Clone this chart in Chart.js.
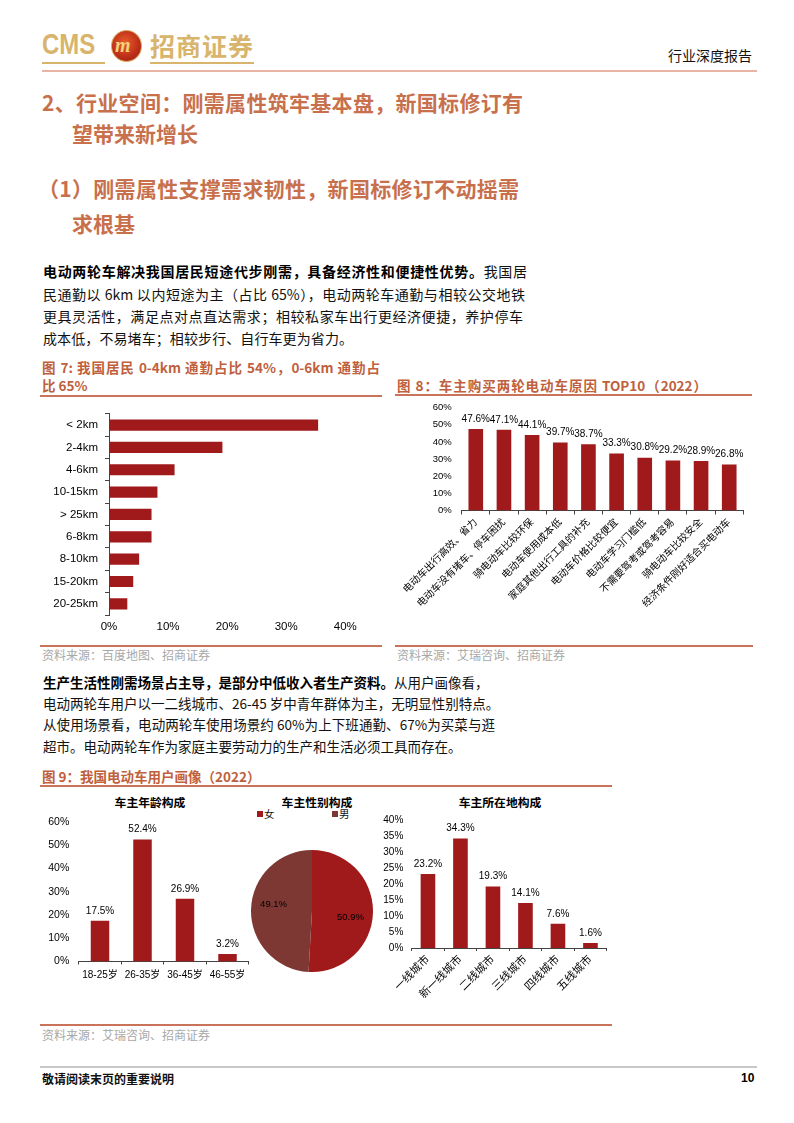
<!DOCTYPE html>
<html lang="zh-CN">
<head>
<meta charset="utf-8">
<script src="https://cdn.jsdelivr.net/npm/chart.js@4.4.1/dist/chart.umd.min.js"></script>
<style>
  html, body { margin:0; padding:0; background:#fff; }
  body { width:794px; height:1123px; position:relative; overflow:hidden;
         font-family:'Noto Sans CJK SC','Liberation Sans',sans-serif; color:#111; }
  .abs { position:absolute; white-space:nowrap; }
  .h1 { font-size:21px; font-weight:bold; color:#C8704C; line-height:26px; }
  .ln { position:absolute; left:43px; white-space:nowrap; text-align:justify; text-align-last:justify; }
  .p1 { font-size:14px; line-height:22px; }
  .p2 { font-size:13.5px; line-height:21px; }
  .ln b { font-weight:bold; color:#000; }
  .ft { font-size:13.5px; font-weight:bold; color:#C0603C; line-height:18px; }
  .rule { position:absolute; height:2px; background:#C8735A; }
  .src { font-size:12px; color:#A8A8A8; line-height:16px; }
  .sub { font-size:11.8px; font-weight:bold; color:#000; line-height:16px; text-align:center; }
  canvas { position:absolute; }
</style>
</head>
<body>
<!-- header -->
<div class="abs" style="left:42px;top:26px;font-family:'Liberation Sans',sans-serif;font-weight:bold;font-size:30px;line-height:36px;color:#D8B46C;transform:scaleX(0.8);transform-origin:0 0;">CMS</div>
<div class="abs" style="left:42px;top:62px;width:63px;height:2px;background:#D8B46C;"></div>
<div class="abs" style="left:111px;top:30px;width:29px;height:30px;border-radius:50%;background:radial-gradient(circle at 45% 40%,#E8602A 0%,#C0301A 55%,#8A1A10 100%);border:1.5px solid #D8A860;"></div>
<div class="abs" style="left:115px;top:34px;font-family:'Liberation Serif',serif;font-style:italic;font-weight:bold;font-size:20px;line-height:22px;color:#F2D27A;">m</div>
<div class="abs" style="left:150px;top:28px;font-weight:bold;font-size:25px;line-height:34px;color:#D8B46C;letter-spacing:1px;">招商证券</div>
<div class="abs" style="left:150px;top:62px;width:104px;height:2px;background:#D8B46C;"></div>
<div class="abs" style="left:668px;top:46px;font-size:14px;line-height:18px;color:#111;">行业深度报告</div>
<div class="abs" style="left:42px;top:70px;width:715px;height:2px;background:#E8B4A4;"></div>

<!-- headings -->
<div class="abs h1" style="left:42px;top:89px;letter-spacing:0.3px;">2、行业空间：刚需属性筑牢基本盘，新国标修订有</div>
<div class="abs h1" style="left:72px;top:120px;">望带来新增长</div>
<div class="abs h1" style="left:38px;top:175px;letter-spacing:0.3px;">（1）刚需属性支撑需求韧性，新国标修订不动摇需</div>
<div class="abs h1" style="left:72px;top:210px;">求根基</div>

<!-- paragraph 1 -->
<div class="ln p1" style="top:260px;width:484px;"><b>电动两轮车解决我国居民短途代步刚需，具备经济性和便捷性优势。</b>我国居</div>
<div class="ln p1" style="top:283px;width:482px;">民通勤以 6km 以内短途为主（占比 65%），电动两轮车通勤与相较公交地铁</div>
<div class="ln p1" style="top:305px;width:480px;">更具灵活性，满足点对点直达需求；相较私家车出行更经济便捷，养护停车</div>
<div class="ln p1" style="top:327px;width:310px;">成本低，不易堵车；相较步行、自行车更为省力。</div>

<!-- fig 7 title -->
<div class="abs ft" style="left:42px;top:358px;width:338px;text-align:justify;text-align-last:justify;">图 7: 我国居民 0-4km 通勤占比 54%，0-6km 通勤占</div>
<div class="abs ft" style="left:42px;top:376px;">比 65%</div>
<div class="rule" style="left:40px;top:395px;width:342px;"></div>
<!-- fig 8 title -->
<div class="abs ft" style="left:397px;top:376px;width:310px;text-align:justify;text-align-last:justify;">图 8：车主购买两轮电动车原因 TOP10（2022）</div>
<div class="rule" style="left:395px;top:394px;width:357px;"></div>

<canvas id="c7" width="330" height="240" style="left:40px;top:400px;"></canvas>
<canvas id="c8" width="355" height="250" style="left:400px;top:392px;"></canvas>

<div class="rule" style="left:40px;top:645px;width:342px;"></div>
<div class="rule" style="left:395px;top:645px;width:358px;"></div>
<div class="abs src" style="left:42px;top:647px;">资料来源：百度地图、招商证券</div>
<div class="abs src" style="left:397px;top:647px;">资料来源：艾瑞咨询、招商证券</div>

<!-- paragraph 2 -->
<div class="ln p2" style="top:672px;width:442px;"><b>生产生活性刚需场景占主导，是部分中低收入者生产资料。</b>从用户画像看，</div>
<div class="ln p2" style="top:693px;width:435px;">电动两轮车用户以一二线城市、26-45 岁中青年群体为主，无明显性别特点。</div>
<div class="ln p2" style="top:714px;width:452px;">从使用场景看，电动两轮车使用场景约 60%为上下班通勤、67%为买菜与逛</div>
<div class="ln p2" style="top:736px;width:414px;">超市。电动两轮车作为家庭主要劳动力的生产和生活必须工具而存在。</div>

<!-- fig 9 -->
<div class="abs ft" style="left:42px;top:767px;">图 9：我国电动车用户画像（2022）</div>
<div class="rule" style="left:40px;top:785px;width:572px;"></div>

<div class="abs sub" style="left:100px;top:794px;width:100px;">车主年龄构成</div>
<div class="abs sub" style="left:262px;top:794px;width:110px;">车主性别构成</div>
<div class="abs sub" style="left:440px;top:794px;width:120px;">车主所在地构成</div>

<div class="abs" style="left:257px;top:807px;font-size:10.5px;line-height:14px;color:#111;"><span style="display:inline-block;width:6px;height:6px;background:#A0191B;margin-right:1px;vertical-align:1px;"></span>女</div>
<div class="abs" style="left:332px;top:807px;font-size:10.5px;line-height:14px;color:#111;"><span style="display:inline-block;width:6px;height:6px;background:#7E3833;margin-right:1px;vertical-align:1px;"></span>男</div>

<canvas id="c9a" width="215" height="180" style="left:40px;top:806px;"></canvas>
<canvas id="c9b" width="122" height="122" style="left:251px;top:850px;"></canvas>
<canvas id="c9c" width="240" height="215" style="left:375px;top:806px;"></canvas>

<div class="rule" style="left:40px;top:1024px;width:572px;"></div>
<div class="abs src" style="left:42px;top:1027px;">资料来源：艾瑞咨询、招商证券</div>

<!-- footer -->
<div class="abs" style="left:40px;top:1066px;width:717px;height:2px;background:#C8C8C8;"></div>
<div class="abs" style="left:42px;top:1071px;font-size:12px;line-height:15px;color:#111;font-weight:bold;">敬请阅读末页的重要说明</div>
<div class="abs" style="left:741px;top:1071px;font-size:12px;line-height:15px;color:#000;font-weight:bold;font-family:'Liberation Sans',sans-serif;">10</div>

<script>
// ---------------- data ----------------
const distLabels = ['< 2km', '2-4km', '4-6km', '10-15km', '> 25km', '6-8km', '8-10km', '15-20km', '20-25km'];
const distValues = [35.4, 19.2, 11.1, 8.2, 7.2, 7.2, 5.1, 4.1, 3.1];
const distTicks = [0, 10, 20, 30, 40];

const reasonLabels = ['电动车出行高效、省力', '电动车没有堵车、停车困扰', '骑电动车比较环保', '电动车使用成本低',
  '家庭其他出行工具的补充', '电动车价格比较便宜', '电动车学习门槛低', '不需要驾考或驾考容易',
  '骑电动车比较安全', '经济条件刚好适合买电动车'];
const reasonValues = [47.6, 47.1, 44.1, 39.7, 38.7, 33.3, 30.8, 29.2, 28.9, 26.8];

const ageLabels = ['18-25岁', '26-35岁', '36-45岁', '46-55岁'];
const ageValues = [17.5, 52.4, 26.9, 3.2];

const genderLabels = ['女', '男'];
const genderValues = [50.9, 49.1];

const cityLabels = ['一线城市', '新一线城市', '二线城市', '三线城市', '四线城市', '五线城市'];
const cityValues = [23.2, 34.3, 19.3, 14.1, 7.6, 1.6];

// ---------------- styles ----------------
const FONT = "'Liberation Sans', 'Noto Sans CJK SC', sans-serif";
const RED = '#A0191B';
const BROWN = '#7E3833';
const AXIS = '#444';

const barLabels = {
  id: 'barLabels',
  afterDatasetsDraw(chart, args, opts) {
    if (!opts || !opts.show) return;
    const ctx = chart.ctx;
    chart.data.datasets.forEach((ds, i) => {
      const meta = chart.getDatasetMeta(i);
      meta.data.forEach((el, j) => {
        ctx.save();
        ctx.font = opts.size + 'px ' + FONT;
        ctx.fillStyle = opts.color || '#000';
        ctx.textAlign = 'center';
        ctx.textBaseline = 'middle';
        ctx.fillText(ds.data[j].toFixed(1) + '%', el.x, el.y - opts.offset);
        ctx.restore();
      });
    });
  }
};

const pieLabels = {
  id: 'pieLabels',
  afterDatasetsDraw(chart, args, opts) {
    const ctx = chart.ctx;
    const meta = chart.getDatasetMeta(0);
    const ds = chart.data.datasets[0];
    meta.data.forEach((el, j) => {
      const p = el.getProps(['x', 'y', 'startAngle', 'endAngle', 'outerRadius'], true);
      const mid = (p.startAngle + p.endAngle) / 2;
      const r = p.outerRadius * opts.frac;
      ctx.save();
      ctx.font = opts.size + 'px ' + FONT;
      ctx.fillStyle = '#000';
      ctx.textAlign = 'center';
      ctx.textBaseline = 'middle';
      ctx.fillText(ds.data[j].toFixed(1) + '%', p.x + r * Math.cos(mid), p.y + r * Math.sin(mid) + opts.dy[j]);
      ctx.restore();
    });
  }
};

const pct = v => v + '%';

// ---------------- Fig 7 ----------------
new Chart(document.getElementById('c7'), {
  type: 'bar',
  data: { labels: distLabels, datasets: [{ data: distValues, backgroundColor: RED, barPercentage: 0.5, categoryPercentage: 1 }] },
  options: {
    indexAxis: 'y', responsive: false, animation: false,
    layout: { padding: { top: 9, right: 24.7, left: 0, bottom: 0 } },
    plugins: { legend: { display: false }, tooltip: { enabled: false } },
    scales: {
      x: {
        min: distTicks[0], max: distTicks[distTicks.length - 1],
        afterBuildTicks: s => { s.ticks = distTicks.map(v => ({ value: v })); },
        ticks: { callback: pct, font: { size: 11.5, family: FONT }, color: '#000', padding: 5 },
        grid: { display: false, drawTicks: false }, border: { display: false },
        afterFit: s => { s.height = 25; }
      },
      y: {
        ticks: { font: { size: 11.5, family: FONT }, color: '#000', padding: 7 },
        grid: { drawOnChartArea: false, tickLength: 4, color: AXIS },
        border: { display: true, color: AXIS },
        afterFit: s => { s.width = 69; }
      }
    }
  }
});

// ---------------- Fig 8 ----------------
new Chart(document.getElementById('c8'), {
  type: 'bar',
  data: { labels: reasonLabels, datasets: [{ data: reasonValues, backgroundColor: RED, barPercentage: 0.52, categoryPercentage: 1 }] },
  options: {
    responsive: false, animation: false,
    layout: { padding: { top: 10, right: 11.7, left: 0, bottom: 0 } },
    plugins: { legend: { display: false }, tooltip: { enabled: false }, barLabels: { show: true, size: 10, offset: 10, color: '#000' } },
    scales: {
      y: {
        min: 0, max: 60, ticks: { stepSize: 10, callback: pct, font: { size: 9.5, family: FONT }, color: '#000', padding: 10 },
        grid: { display: false, drawTicks: false }, border: { display: false },
        afterFit: s => { s.width = 61.7; }
      },
      x: {
        ticks: { font: { size: 10, family: FONT }, color: '#000', minRotation: 45, maxRotation: 45, autoSkip: false, padding: 2 },
        grid: { drawOnChartArea: false, tickLength: 4, color: AXIS },
        border: { display: true, color: AXIS },
        afterFit: s => { s.height = 131.5; }
      }
    }
  },
  plugins: [barLabels]
});

// ---------------- Fig 9a ----------------
new Chart(document.getElementById('c9a'), {
  type: 'bar',
  data: { labels: ageLabels, datasets: [{ data: ageValues, backgroundColor: RED, barPercentage: 0.435, categoryPercentage: 1 }] },
  options: {
    responsive: false, animation: false,
    layout: { padding: { top: 8, right: 6.25, left: 0, bottom: 0 } },
    plugins: { legend: { display: false }, tooltip: { enabled: false }, barLabels: { show: true, size: 10, offset: 10, color: '#000' } },
    scales: {
      y: {
        min: 0, max: 60, ticks: { stepSize: 10, callback: pct, font: { size: 10.5, family: FONT }, color: '#000', padding: 9.5 },
        grid: { display: false, drawTicks: false }, border: { display: false },
        afterFit: s => { s.width = 38.75; }
      },
      x: {
        ticks: { font: { size: 10, family: FONT }, color: '#000', maxRotation: 0, autoSkip: false, padding: 5 },
        grid: { drawOnChartArea: false, tickLength: 3, color: AXIS },
        border: { display: true, color: AXIS },
        afterFit: s => { s.height = 24.5; }
      }
    }
  },
  plugins: [barLabels]
});

// ---------------- Fig 9b (pie) ----------------
new Chart(document.getElementById('c9b'), {
  type: 'pie',
  data: { labels: genderLabels, datasets: [{ data: genderValues, backgroundColor: [RED, BROWN], borderWidth: 0 }] },
  options: {
    responsive: false, animation: false,
    layout: { padding: 0 },
    plugins: { legend: { display: false }, tooltip: { enabled: false }, pieLabels: { size: 9.5, frac: 0.63, dy: [5, -6] } }
  },
  plugins: [pieLabels]
});

// ---------------- Fig 9c ----------------
new Chart(document.getElementById('c9c'), {
  type: 'bar',
  data: { labels: cityLabels, datasets: [{ data: cityValues, backgroundColor: RED, barPercentage: 0.45, categoryPercentage: 1 }] },
  options: {
    responsive: false, animation: false,
    layout: { padding: { top: 8, right: 8.3, left: 0, bottom: 0 } },
    plugins: { legend: { display: false }, tooltip: { enabled: false }, barLabels: { show: true, size: 10, offset: 10, color: '#000' } },
    scales: {
      y: {
        min: 0, max: 40, ticks: { stepSize: 5, callback: pct, font: { size: 10, family: FONT }, color: '#000', padding: 8.4 },
        grid: { display: false, drawTicks: false }, border: { display: false },
        afterFit: s => { s.width = 36.7; }
      },
      x: {
        ticks: { font: { size: 11, family: FONT }, color: '#000', minRotation: 45, maxRotation: 45, autoSkip: false, padding: 2 },
        grid: { drawOnChartArea: false, tickLength: 3, color: AXIS },
        border: { display: true, color: AXIS },
        afterFit: s => { s.height = 73; }
      }
    }
  },
  plugins: [barLabels]
});
</script>
</body>
</html>
